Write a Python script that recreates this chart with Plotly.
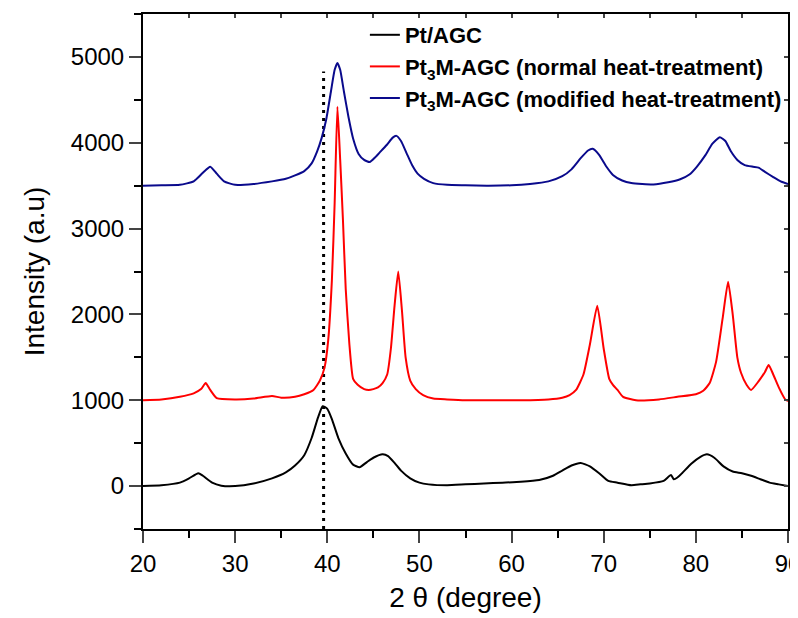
import plotly.graph_objects as go

# Pt/AGC
pt_x = [20, 22, 24, 25, 26, 26.5, 27.5, 28.5, 30, 32, 34, 35.5, 36.5, 37.5, 38.3, 39, 39.5, 40, 40.5,
        41.2, 42, 42.8, 43.5, 44.3, 45, 46, 46.6, 47.3, 48, 49, 50, 51, 53, 55, 57, 59, 61, 63, 64.5,
        65.5, 66.5, 67.5, 68.5, 69.5, 70.5, 71.5, 73, 74, 75, 76.5, 77.3, 77.6, 78, 78.5, 79.5, 80.5,
        81.2, 82, 83, 84, 85, 86, 87, 88, 89, 90]
pt_y = [0, 10, 40, 90, 150, 120, 40, 5, 0, 30, 90, 160, 240, 360, 560, 800, 930, 900, 780,
        560, 380, 250, 220, 280, 330, 370, 350, 270, 180, 90, 40, 20, 10, 20, 30, 40, 50, 70, 120,
        180, 240, 270, 230, 150, 60, 40, 10, 20, 30, 60, 130, 80, 100, 150, 260, 340,
        370, 330, 230, 170, 150, 120, 80, 40, 20, 0]

# Pt3M-AGC (normal heat-treatment)
nor_x = [20, 22, 24, 25.5, 26.3, 26.8, 27.3, 28, 30, 32, 34, 35, 36.5, 37.5, 38.5, 39.2, 39.7, 40.1,
         40.5, 40.8, 41.1, 41.4, 41.7, 42.0, 42.4, 42.8, 43.3, 44, 44.5, 45, 45.5, 46, 46.5, 46.9,
         47.3, 47.7, 48.1, 48.5, 49, 49.6, 50.4, 51.5, 53, 55, 58, 61, 64, 65.5, 66.3, 67, 67.8,
         68.5, 69.3, 70, 70.6, 71, 71.5, 72.1, 73.5, 76, 78, 80, 80.8, 81.5, 82.2, 82.9, 83.5, 84,
         84.5, 84.9, 85.5, 86, 86.8, 87.5, 87.9, 88.4, 89, 89.7, 90]
nor_y = [1000, 1010, 1040, 1080, 1130, 1200, 1120, 1025, 1010, 1020, 1050, 1030, 1040, 1070, 1120, 1230,
         1380, 1700, 2400, 3300, 4420, 3800, 3100, 2300, 1650, 1250, 1180, 1130, 1120, 1130, 1150,
         1200, 1300, 1600, 2100, 2500, 2050, 1500, 1230, 1130, 1060, 1020, 1010, 1000, 1000, 1000,
         1010, 1030, 1060, 1120, 1300, 1650, 2100, 1600, 1250, 1180, 1120, 1040, 1000, 1010, 1040,
         1070, 1110, 1200, 1450, 1950, 2380, 2000, 1500, 1320, 1180, 1120, 1220, 1330, 1410, 1300,
         1150, 1010, 990]

# Pt3M-AGC (modified heat-treatment)
mod_x = [20, 22, 24, 25.5, 26.5, 27.3, 28, 28.8, 30, 32, 34, 35.5, 36.5, 37.5, 38.3, 38.9, 39.4,
         39.9, 40.4, 40.8, 41.1, 41.4, 41.8, 42.3, 42.8, 43.4, 44, 44.6, 45.2, 45.8, 46.5, 47.1,
         47.5, 48, 48.6, 49.2, 49.8, 50.5, 51.5, 53, 55, 57.3, 60, 62, 64, 65.5, 66.5, 67.5, 68.3,
         68.8, 69.5, 70.3, 71, 72, 73, 75.4, 77, 78.3, 79.3, 80.1, 81, 81.8, 82.6, 83.2, 83.8, 84.5,
         85.3, 86.2, 86.8, 87.5, 88.4, 89.2, 90]
mod_y = [3500, 3505, 3510, 3550, 3650, 3720, 3640, 3550, 3510, 3520, 3550, 3580, 3620, 3670, 3760,
         3900, 4060, 4280, 4600, 4850, 4930, 4850, 4600, 4300, 4050, 3870, 3800, 3775, 3830, 3900,
         3980, 4060, 4080, 4020, 3880, 3740, 3640, 3580, 3530, 3510, 3505, 3500, 3505, 3520, 3550,
         3610, 3690, 3820, 3910, 3930, 3860, 3720, 3625, 3560, 3530, 3515, 3540, 3575, 3630, 3720,
         3850, 3990, 4065, 4020, 3900, 3800, 3740, 3720, 3710, 3660, 3600, 3550, 3520]

# reference line (Pt peak position)
ref_x = [39.6, 39.6]
ref_y = [-500, 4830]

names = ["<b>Pt/AGC</b>",
         "<b>Pt<sub>3</sub>M-AGC (normal heat-treatment)</b>",
         "<b>Pt<sub>3</sub>M-AGC (modified heat-treatment)</b>"]
colors = ["#000000", "#ff0000", "#0a0a8c"]

FONT = "Liberation Sans, Arial, sans-serif"

fig = go.Figure()
fig.add_trace(go.Scatter(x=ref_x, y=ref_y, mode="lines", showlegend=False,
                         line=dict(color="black", width=3, dash="3px,5px"), hoverinfo="skip"))
for xs, ys, nm, c in [(pt_x, pt_y, names[0], colors[0]),
                      (nor_x, nor_y, names[1], colors[1]),
                      (mod_x, mod_y, names[2], colors[2])]:
    fig.add_trace(go.Scatter(x=xs, y=ys, mode="lines", name=nm,
                             line=dict(color=c, width=2, shape="spline", smoothing=0.5)))

# dummy trace to activate mirror axes (inside ticks on top/right)
fig.add_trace(go.Scatter(x=[None], y=[None], xaxis="x2", yaxis="y2", showlegend=False,
                         hoverinfo="skip", mode="lines"))

fig.update_layout(
    width=790, height=610,
    margin=dict(l=135, r=10, t=6, b=89),
    paper_bgcolor="white", plot_bgcolor="white",
    font=dict(family=FONT, color="black"),
    showlegend=True,
    legend=dict(x=0.344, y=1.0, xanchor="left", yanchor="top",
                bgcolor="rgba(0,0,0,0)", borderwidth=0,
                font=dict(family=FONT, size=22, color="black"),
                tracegroupgap=0, itemwidth=30),
    xaxis=dict(range=[20, 90], dtick=10, tick0=20, ticks="outside", ticklen=12, tickwidth=2,
               showline=True, linewidth=2, linecolor="black", mirror=True, showgrid=False,
               zeroline=False, tickfont=dict(size=24, family=FONT), automargin=False,
               ticklabeloverflow="allow",
               minor=dict(dtick=5, ticks="outside", ticklen=7, tickwidth=2, tickcolor="black"),
               title=dict(text="2 \u03b8 (degree)", font=dict(size=28, family=FONT), standoff=12)),
    yaxis=dict(range=[-500, 5500], dtick=1000, tick0=0, ticks="outside", ticklen=12, tickwidth=2,
               showline=True, linewidth=2, linecolor="black", mirror=True, showgrid=False,
               zeroline=False, tickfont=dict(size=24, family=FONT), automargin=False,
               ticklabeloverflow="allow",
               minor=dict(dtick=500, ticks="outside", ticklen=7, tickwidth=2, tickcolor="black"),
               title=dict(text="Intensity (a.u)", font=dict(size=28, family=FONT), standoff=18)),
    xaxis2=dict(range=[20, 90], overlaying="x", side="top", anchor="y", dtick=5, tick0=20,
                ticks="inside", ticklen=4, tickwidth=1.5, showticklabels=False, showgrid=False,
                zeroline=False, showline=False, automargin=False),
    yaxis2=dict(range=[-500, 5500], overlaying="y", side="right", anchor="x", dtick=500, tick0=0,
                ticks="inside", ticklen=4, tickwidth=1.5, showticklabels=False, showgrid=False,
                zeroline=False, showline=False, automargin=False),
)

fig.write_html("out.html")
